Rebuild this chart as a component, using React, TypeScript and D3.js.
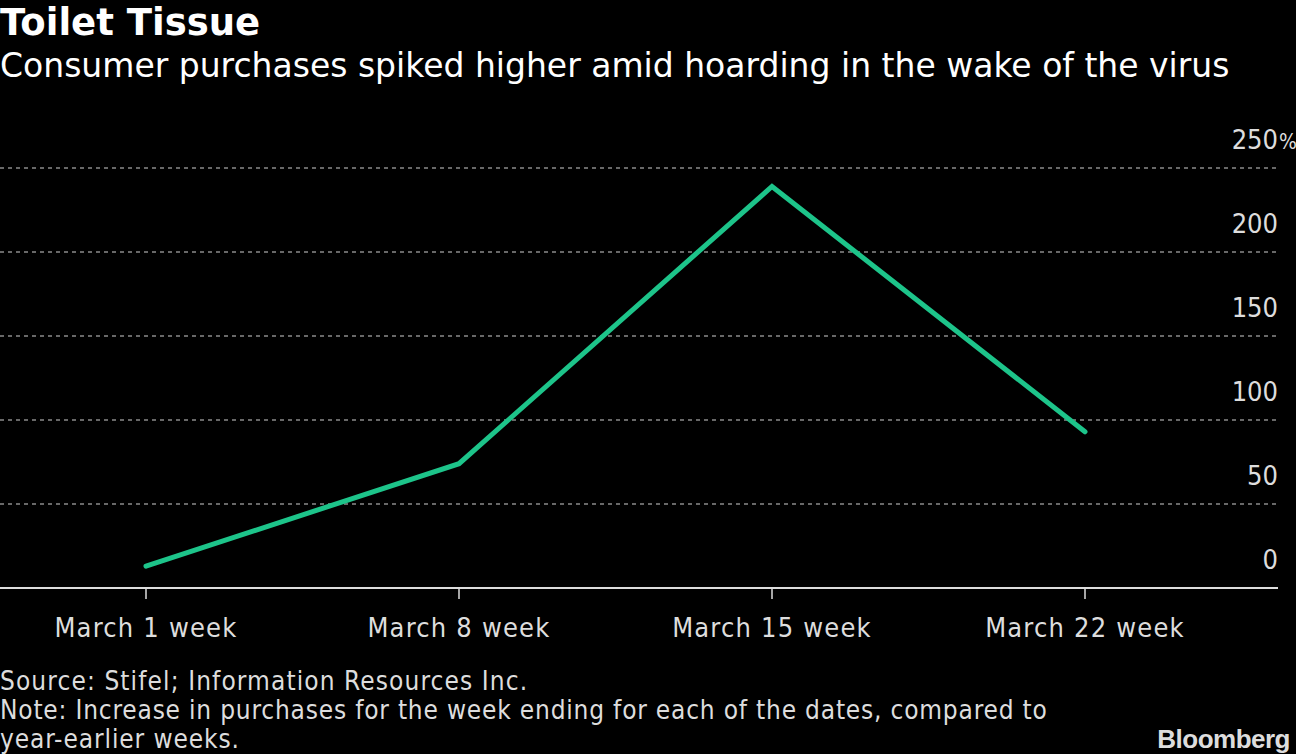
import React from "react";
import * as d3 from "d3";

const categories = ["March 1 week", "March 8 week", "March 15 week", "March 22 week"];
const values = [13, 74, 239, 93];
const yTicks = [0, 50, 100, 150, 200, 250];

const W = 1296;
const H = 754;
const FONT = "'DejaVu Sans Condensed', 'DejaVu Sans', sans-serif";
const COND = { fontStretch: "condensed" as const };

export default function App() {
  const x = d3.scalePoint<string>().domain(categories).range([146, 1085]);
  const y = d3.scaleLinear().domain([0, 250]).range([588, 168]);
  const line = d3
    .line<number>()
    .x((_, i) => x(categories[i]) as number)
    .y((d) => y(d));

  return (
    <svg
      width={W}
      height={H}
      style={{ position: "absolute", left: 0, top: 0, background: "#000" }}
      fontFamily={FONT}
    >
      <rect x={0} y={0} width={W} height={H} fill="#000" />
      <text x={0} y={35} fill="#fff" fontSize={37} fontWeight="bold" fontFamily="'DejaVu Sans', sans-serif">
        Toilet Tissue
      </text>
      <text x={0} y={77} fill="#fff" fontSize={33} fontFamily="'DejaVu Sans', sans-serif">
        Consumer purchases spiked higher amid hoarding in the wake of the virus
      </text>

      {yTicks.map((t) =>
        t === 0 ? null : (
          <line
            key={"g" + t}
            x1={0}
            x2={1278}
            y1={y(t)}
            y2={y(t)}
            stroke="#8a8a8a"
            strokeWidth={1.5}
            strokeDasharray="4,4"
          />
        )
      )}
      {yTicks.map((t) => (
        <g key={"t" + t}>
          <text x={1278} y={y(t) - 19} fill="#ddd" fontSize={27} textAnchor="end" style={COND}>
            {t}
          </text>
          {t === 250 ? (
            <text x={1279} y={y(t) - 19} fill="#ddd" fontSize={21} style={COND}>
              %
            </text>
          ) : null}
        </g>
      ))}

      <line x1={0} x2={1278} y1={y(0)} y2={y(0)} stroke="#ddd" strokeWidth={2} />
      {categories.map((c) => (
        <g key={c}>
          <line x1={x(c)} x2={x(c)} y1={y(0)} y2={y(0) + 11} stroke="#ddd" strokeWidth={1.5} />
          <text
            x={x(c)}
            y={637}
            fill="#ddd"
            fontSize={27}
            textAnchor="middle"
            letterSpacing={1.2}
            style={COND}
          >
            {c}
          </text>
        </g>
      ))}

      <path
        d={line(values) || ""}
        fill="none"
        stroke="#1dc48a"
        strokeWidth={5}
        strokeLinecap="round"
        strokeLinejoin="miter"
      />

      <text x={0} y={690} fill="#ddd" fontSize={26} letterSpacing={1.1} style={COND}>
        Source: Stifel; Information Resources Inc.
      </text>
      <text x={0} y={719} fill="#ddd" fontSize={26} letterSpacing={0.8} style={COND}>
        Note: Increase in purchases for the week ending for each of the dates, compared to
      </text>
      <text x={0} y={748} fill="#ddd" fontSize={26} letterSpacing={0.9} style={COND}>
        year-earlier weeks.
      </text>
      <text
        x={1290}
        y={748}
        fill="#ddd"
        fontSize={26}
        fontWeight="bold"
        textAnchor="end"
        fontFamily="'Liberation Sans', Arial, sans-serif"
        letterSpacing={-0.5}
      >
        Bloomberg
      </text>
    </svg>
  );
}
